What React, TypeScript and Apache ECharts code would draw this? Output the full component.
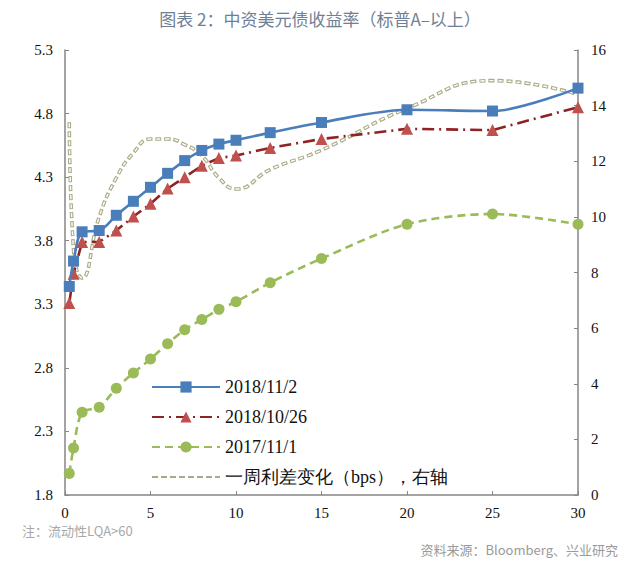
import React, { useEffect, useRef } from "react";
import * as echarts from "echarts";

const tenors = [0.25, 0.5, 1, 2, 3, 4, 5, 6, 7, 8, 9, 10, 12, 15, 20, 25, 30];
const y20181102 = [3.44, 3.64, 3.87, 3.88, 4.0, 4.11, 4.22, 4.33, 4.43, 4.51, 4.56, 4.59, 4.65, 4.73, 4.83, 4.82, 5.0];
const y20181026 = [3.31, 3.54, 3.79, 3.79, 3.88, 3.99, 4.09, 4.21, 4.3, 4.39, 4.45, 4.47, 4.53, 4.6, 4.68, 4.67, 4.85];
const y20171101 = [1.97, 2.17, 2.45, 2.49, 2.64, 2.76, 2.87, 2.99, 3.1, 3.18, 3.26, 3.32, 3.47, 3.66, 3.93, 4.01, 3.93];
const spreadChange = [13.4, 8.8, 7.8, 10.0, 11.4, 12.3, 12.8, 12.8, 12.6, 12.2, 11.4, 11.0, 11.7, 12.4, 13.9, 14.9, 14.4];

const seriesNames = ["2018/11/2", "2018/10/26", "2017/11/1", "一周利差变化（bps），右轴"];
const titleText = "图表 2：中资美元债收益率（标普A–以上）";
const noteText = "注：流动性LQA>60";
const sourceText = "资料来源：Bloomberg、兴业研究";

const pairs = (ys: number[]) => tenors.map((x, i) => [x, ys[i]]);

export default function App() {
  const ref = useRef<HTMLDivElement>(null);
  useEffect(() => {
    if (!ref.current) return;
    const chart = echarts.init(ref.current, null, { renderer: "svg" });
    const serif = "Liberation Serif, serif";
    const sans = "Noto Sans CJK SC";
    const axisLine = { show: true, lineStyle: { color: "#868686", width: 1.5 } };
    chart.setOption({
      animation: false,
      backgroundColor: "#ffffff",
      title: {
        text: titleText,
        left: "center",
        top: 5,
        textStyle: { fontFamily: sans, fontSize: 17, fontWeight: "normal", color: "#6f8096" },
      },
      graphic: [
        { type: "text", left: 22, top: 524, style: { text: noteText, fontFamily: sans, fontSize: 13, fill: "#a8a8a8" } },
        { type: "text", right: 22, top: 543, style: { text: sourceText, fontFamily: sans, fontSize: 13, fill: "#9a9a9a" } },
      ],
      legend: {
        data: [
          { name: seriesNames[0] },
          { name: seriesNames[1] },
          { name: seriesNames[2] },
          { name: seriesNames[3], itemStyle: { opacity: 0 } },
        ],
        orient: "vertical",
        left: 146,
        top: 373,
        itemWidth: 68,
        itemHeight: 14,
        itemGap: 12,
        textStyle: { fontFamily: serif, fontSize: 18, color: "#111" },
      },
      grid: { left: 65, right: 62, top: 50, bottom: 74 },
      xAxis: {
        type: "value",
        min: 0,
        max: 30,
        interval: 5,
        axisLine,
        axisTick: { show: true, inside: true, length: 4, lineStyle: { color: "#868686" } },
        splitLine: { show: false },
        axisLabel: { fontFamily: serif, fontSize: 15, color: "#111", margin: 10 },
      },
      yAxis: [
        {
          type: "value",
          min: 1.8,
          max: 5.3,
          interval: 0.5,
          position: "left",
          axisLine,
          axisTick: { show: true, inside: true, length: 4, lineStyle: { color: "#868686" } },
          splitLine: { show: false },
          axisLabel: { fontFamily: serif, fontSize: 15, color: "#111", margin: 12, formatter: (v: number) => v.toFixed(1) },
        },
        {
          type: "value",
          min: 0,
          max: 16,
          interval: 2,
          position: "right",
          axisLine,
          axisTick: { show: true, inside: true, length: 4, lineStyle: { color: "#868686" } },
          splitLine: { show: false },
          axisLabel: { fontFamily: serif, fontSize: 15, color: "#111", margin: 13 },
        },
      ],
      series: [
        {
          name: seriesNames[3],
          type: "line",
          yAxisIndex: 1,
          data: pairs(spreadChange),
          smooth: 0.5,
          showSymbol: false,
          symbol: "none",
          itemStyle: { color: "#aaaa86" },
          lineStyle: { color: "#aaaa86", width: 3.6, type: [6, 3] },
          z: 1,
        },
        {
          name: "_spreadInner",
          type: "line",
          yAxisIndex: 1,
          data: pairs(spreadChange),
          smooth: 0.5,
          showSymbol: false,
          symbol: "none",
          lineStyle: { color: "#ffffff", width: 1.4, type: [4, 5], dashOffset: -1 },
          z: 1,
          silent: true,
        },
        {
          name: seriesNames[2],
          type: "line",
          data: pairs(y20171101),
          smooth: 0.3,
          symbol: "circle",
          symbolSize: 11,
          itemStyle: { color: "#9bbb59" },
          lineStyle: { color: "#9bbb59", width: 2.6, type: [8, 5] },
          z: 3,
        },
        {
          name: seriesNames[1],
          type: "line",
          data: pairs(y20181026),
          symbol: "triangle",
          symbolSize: 12,
          itemStyle: { color: "#c0504d" },
          lineStyle: { color: "#8e2224", width: 2.6, type: [12, 5, 2, 5] },
          z: 4,
        },
        {
          name: seriesNames[0],
          type: "line",
          data: pairs(y20181102),
          smooth: 0.3,
          symbol: "rect",
          symbolSize: 11,
          itemStyle: { color: "#4a7ebb" },
          lineStyle: { color: "#4a7ebb", width: 2.6 },
          z: 5,
        },
      ],
    });
    return () => chart.dispose();
  }, []);
  return <div ref={ref} style={{ position: "fixed", left: 0, top: 0, width: 640, height: 569 }} />;
}
